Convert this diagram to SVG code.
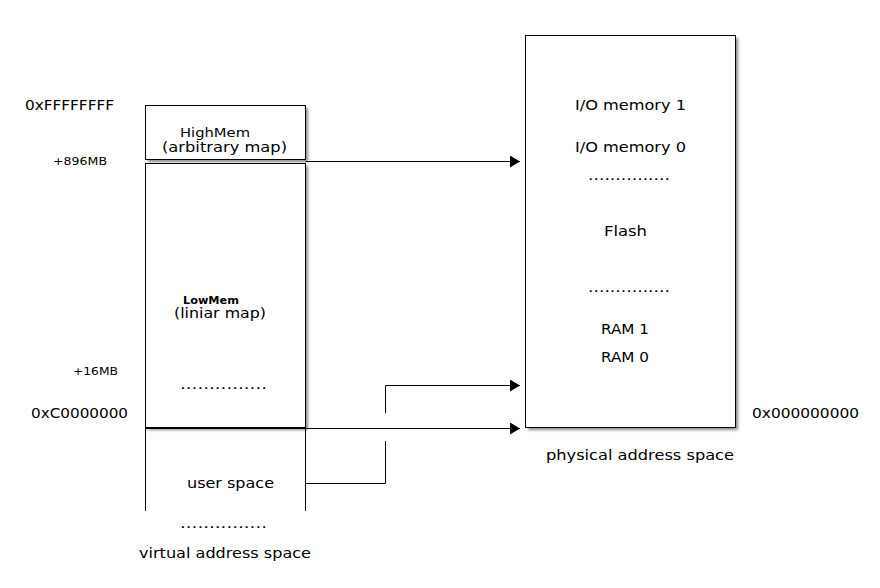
<svg xmlns="http://www.w3.org/2000/svg" width="880" height="588" viewBox="0 0 880 588">
<defs>
<style>
text{font-family:"DejaVu Sans","Liberation Sans",sans-serif;fill:#000;font-size:14px}
.s{font-size:11px}
.box{fill:#fff;stroke:#000;stroke-width:1}
.sh{fill:#888}
.ln{fill:none;stroke:#000;stroke-width:1}
</style>
<filter id="blur" x="-10%" y="-10%" width="120%" height="120%">
<feGaussianBlur stdDeviation="1.5"/>
</filter>
<marker id="ah" markerWidth="11" markerHeight="12" refX="10" refY="6" orient="auto" markerUnits="userSpaceOnUse">
<path d="M0,0 L10,6 L0,12 z" fill="#000"/>
</marker>
</defs>
<rect width="880" height="588" fill="#fff"/>
<g id="highmem">
<rect class="sh" x="148" y="108" width="160" height="54" filter="url(#blur)"/>
<rect class="box" x="145.5" y="105.5" width="160" height="54"/>
<text x="180" y="137" style="font-size:12px" textLength="70" lengthAdjust="spacingAndGlyphs">HighMem</text>
<text x="162" y="152" textLength="125" lengthAdjust="spacingAndGlyphs">(arbitrary map)</text>
</g>
<g id="lowmem">
<rect class="sh" x="148" y="166" width="160" height="264" filter="url(#blur)"/>
<rect class="box" x="145.5" y="163.5" width="160" height="264"/>
<text x="183" y="304" style="font-size:10px;font-weight:bold" textLength="56" lengthAdjust="spacingAndGlyphs">LowMem</text>
<text x="174" y="318" textLength="92" lengthAdjust="spacingAndGlyphs">(liniar map)</text>
<text x="180" y="389" textLength="87" lengthAdjust="spacingAndGlyphs">...............</text>
</g>
<g id="userspace">
<path class="ln" d="M145.5,428 V511 M305.5,428 V511"/>
<text x="187" y="488" textLength="87" lengthAdjust="spacingAndGlyphs">user space</text>
<text x="180" y="528" textLength="87" lengthAdjust="spacingAndGlyphs">...............</text>
</g>
<g id="physical">
<rect class="sh" x="528" y="38" width="210" height="392" filter="url(#blur)"/>
<rect class="box" x="525.5" y="35.5" width="210" height="392"/>
<text x="575" y="110" textLength="111" lengthAdjust="spacingAndGlyphs">I/O memory 1</text>
<text x="575" y="152" textLength="111" lengthAdjust="spacingAndGlyphs">I/O memory 0</text>
<text x="588" y="180" textLength="82" lengthAdjust="spacingAndGlyphs">...............</text>
<text x="604" y="236" textLength="43" lengthAdjust="spacingAndGlyphs">Flash</text>
<text x="588" y="292" textLength="82" lengthAdjust="spacingAndGlyphs">...............</text>
<text x="601" y="334" textLength="48" lengthAdjust="spacingAndGlyphs">RAM 1</text>
<text x="601" y="362" textLength="48" lengthAdjust="spacingAndGlyphs">RAM 0</text>
</g>
<g id="labels">
<text x="25" y="110" textLength="89" lengthAdjust="spacingAndGlyphs">0xFFFFFFFF</text>
<text class="s" x="53" y="165" textLength="54" lengthAdjust="spacingAndGlyphs">+896MB</text>
<text class="s" x="73" y="375" textLength="45" lengthAdjust="spacingAndGlyphs">+16MB</text>
<text x="31" y="418" textLength="97" lengthAdjust="spacingAndGlyphs">0xC0000000</text>
<text x="752" y="418" textLength="107" lengthAdjust="spacingAndGlyphs">0x000000000</text>
<text x="139" y="558" textLength="172" lengthAdjust="spacingAndGlyphs">virtual address space</text>
<text x="546" y="460" textLength="188" lengthAdjust="spacingAndGlyphs">physical address space</text>
</g>
<g id="connectors">
<path class="ln" d="M305.5,161.5 H520" marker-end="url(#ah)"/>
<path class="ln" d="M145.5,428.5 H520" marker-end="url(#ah)"/>
<path class="ln" d="M305.5,483.5 H385.5 V441"/>
<path class="ln" d="M385.5,413 V385.5 H520" marker-end="url(#ah)"/>
</g>
</svg>
